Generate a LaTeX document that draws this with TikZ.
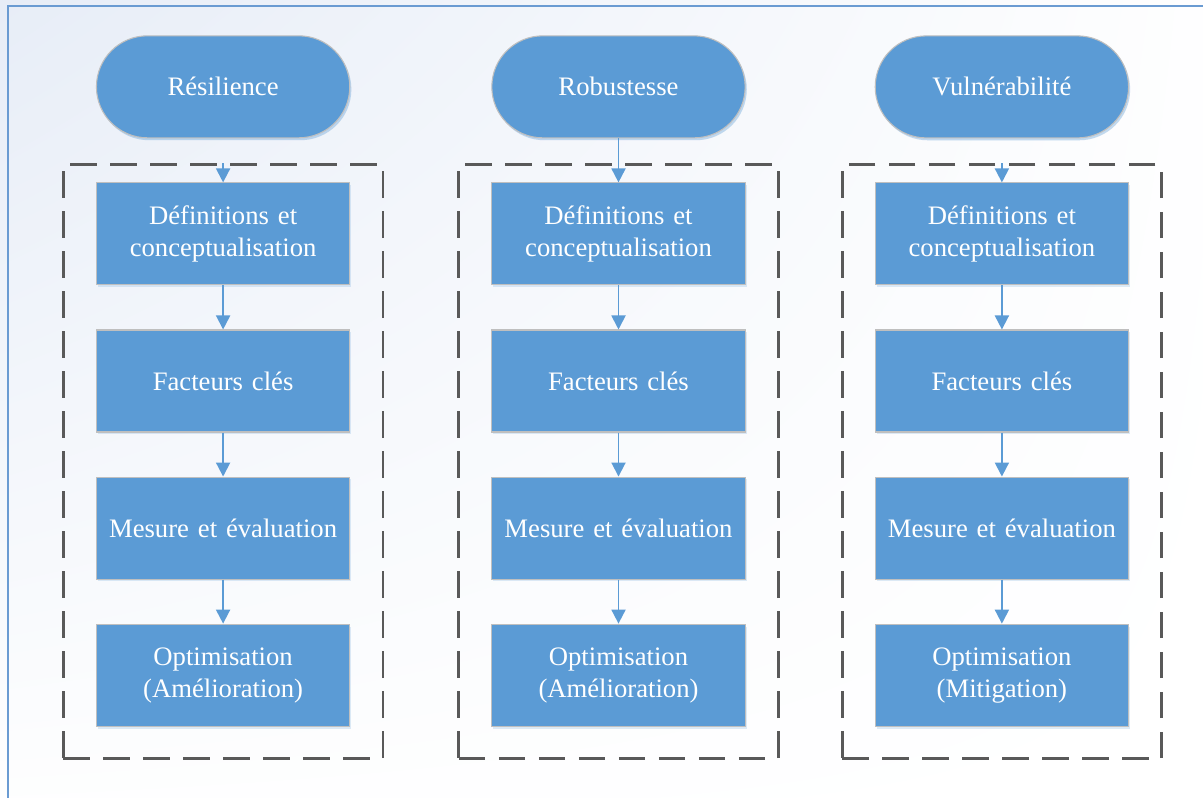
\documentclass[tikz,border=0pt]{standalone}
\usepackage{fontspec}
\setmainfont{Liberation Serif}
\usetikzlibrary{matrix,fit,arrows.meta,shadows,shadings}

\definecolor{boxblue}{HTML}{5B9BD5}
\definecolor{boxedge}{HTML}{BFBFBF}
\definecolor{dashgray}{HTML}{595959}
\definecolor{bgblue}{HTML}{E7EDF7}
\definecolor{framecol}{HTML}{6A9BD2}

\tikzset{
    stepbox/.style={rectangle, fill=boxblue, draw=boxedge, line width=0.8pt,
        text=white, align=center, text width=185pt, minimum width=190pt, minimum height=76.5pt,
        inner sep=2pt, font=\rmfamily\fontsize{20}{24}\selectfont,
        drop shadow={shadow xshift=1.2pt, shadow yshift=-1.8pt, fill=boxblue, opacity=0.2}},
    termbox/.style={stepbox, rounded corners=38.25pt},
    grpbox/.style={draw=dashgray, line width=2pt, dash pattern=on 20pt off 10pt,
        inner xsep=24.4pt, inner ysep=18.75pt, yshift=-5.25pt},
    flow/.style={draw=boxblue, line width=1.4pt, -{Triangle[width=10.5pt,length=10.5pt]}}
}

\begin{document}
\begin{tikzpicture}[x=0.75pt, y=-0.75pt]
    % Background and frame
    \useasboundingbox (0,0) rectangle (1203,798);
    \shade[upper left=bgblue, upper right=white!96!bgblue, lower left=white!94!bgblue, lower right=white]
        (0,0) rectangle (1203,798);
    \draw[framecol, line width=1.5pt] (8,6) rectangle (1240,840);
    % Define matrix
        \matrix (m) [matrix of nodes, row sep=33pt, column sep=96.75pt,
            nodes={stepbox}, row 1/.style={nodes={termbox}}] at (612.5,381)
        {
            Résilience &[9pt] Robustesse & Vulnérabilité \\
            Définitions et conceptualisation & Définitions et conceptualisation & Définitions et conceptualisation \\
            Facteurs clés & Facteurs clés & Facteurs clés \\
            Mesure et évaluation & Mesure et évaluation & Mesure et évaluation \\
            Optimisation (Amélioration) & Optimisation (Amélioration) & Optimisation (Mitigation) \\
        };
        % Dashed groups
        \node[grpbox, fit=(m-2-1)(m-5-1)] (g1) {};
        \node[grpbox, fit=(m-2-2)(m-5-2)] (g2) {};
        \node[grpbox, fit=(m-2-3)(m-5-3)] (g3) {};
        % Draw arrows
        \draw[flow] (g1.north) -- (m-2-1);
        \draw[flow] (m-1-2) -- (m-2-2);
        \draw[flow] (g3.north) -- (m-2-3);
        \draw[flow] (m-2-1) -- (m-3-1);
        \draw[flow] (m-3-1) -- (m-4-1);
        \draw[flow] (m-4-1) -- (m-5-1);
        \draw[flow] (m-2-2) -- (m-3-2);
        \draw[flow] (m-3-2) -- (m-4-2);
        \draw[flow] (m-4-2) -- (m-5-2);
        \draw[flow] (m-2-3) -- (m-3-3);
        \draw[flow] (m-3-3) -- (m-4-3);
        \draw[flow] (m-4-3) -- (m-5-3);
\end{tikzpicture}
\end{document}
